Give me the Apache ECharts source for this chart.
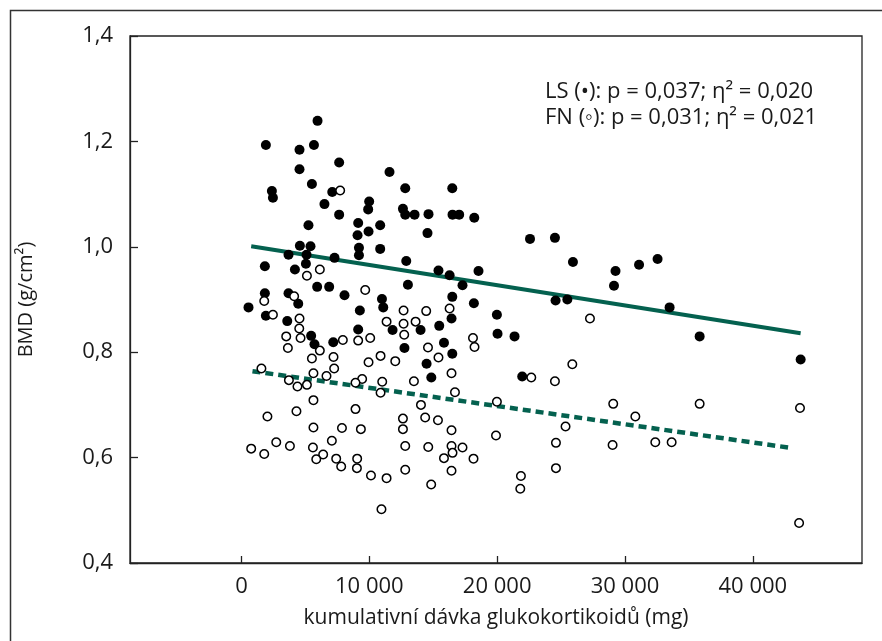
<!DOCTYPE html>
<html lang="cs">
<head>
    <meta charset="UTF-8">
    <title>BMD vs kumulativní dávka</title>
    <style>
        html, body { margin: 0; padding: 0; background: #fff; }
        #main { width: 882px; height: 641px; }
    </style>
</head>
<body>
<div id="main"></div>
<script src="https://cdn.jsdelivr.net/npm/echarts/dist/echarts.min.js"></script>
<script>
    // LS (plné body): [dávka mg, BMD]
    var lsData = [
        [5950,1.239],[1910,1.193],[4540,1.184],[5670,1.193],[7640,1.160],[4540,1.147],[11580,1.142],[5510,1.119],
        [2380,1.106],[2460,1.093],[7100,1.104],[12810,1.111],[6490,1.081],[9990,1.086],[9910,1.071],[12630,1.072],
        [12810,1.061],[13540,1.061],[14630,1.062],[7640,1.061],[5240,1.041],[9130,1.045],[10850,1.041],[9080,1.022],
        [9940,1.029],[14550,1.026],[4570,1.002],[5400,1.001],[3680,0.985],[5090,0.985],[9190,0.998],[9190,0.984],
        [10850,0.996],[7280,0.979],[5040,0.968],[12890,0.973],[1830,0.963],[4180,0.957],[5920,0.924],[6860,0.924],
        [13020,0.928],[1830,0.912],[3680,0.912],[8060,0.908],[4440,0.892],[550,0.885],[10990,0.901],[11090,0.885],
        [1910,0.869],[3580,0.859],[9260,0.879],[9130,0.843],[11820,0.842],[14010,0.842],[5450,0.831],[5710,0.815],
        [7180,0.819],[12750,0.808],[14480,0.778],[14850,0.752],[16490,1.111],[16510,1.061],[17030,1.061],[18210,1.055],
        [22570,1.015],[24520,1.017],[25930,0.971],[15410,0.955],[16280,0.946],[18540,0.954],[17290,0.927],[29260,0.954],
        [29140,0.926],[16490,0.905],[18180,0.893],[24570,0.898],[25490,0.900],[16430,0.864],[19980,0.871],[15470,0.850],
        [15840,0.818],[20030,0.835],[21360,0.830],[16490,0.797],[21960,0.754],[31100,0.966],[32550,0.977],[33490,0.885],
        [35840,0.830],[43740,0.786]
    ];

    // FN (prázdné body)
    var fnData = [
        [7720,1.107],[6130,0.957],[5120,0.945],[9680,0.918],[1780,0.897],[4120,0.906],[2460,0.871],[4540,0.864],
        [4520,0.845],[3500,0.830],[4620,0.827],[3630,0.808],[12680,0.879],[14450,0.878],[11350,0.858],[12680,0.854],
        [13620,0.858],[12730,0.833],[7930,0.823],[9130,0.822],[10070,0.827],[14590,0.809],[6130,0.803],[5510,0.788],
        [7200,0.791],[10880,0.793],[9940,0.781],[12030,0.783],[1560,0.769],[7250,0.769],[5630,0.760],[6650,0.755],
        [9440,0.749],[3710,0.747],[4380,0.735],[5120,0.738],[8920,0.742],[11010,0.744],[10880,0.723],[13490,0.745],
        [14040,0.700],[5630,0.709],[4300,0.688],[8920,0.692],[2030,0.678],[12630,0.674],[14370,0.676],[5630,0.657],
        [7860,0.656],[9340,0.654],[12630,0.654],[7070,0.632],[2720,0.629],[760,0.617],[1780,0.607],[3790,0.622],
        [5590,0.619],[6390,0.606],[5850,0.597],[7410,0.598],[9050,0.598],[7800,0.583],[9030,0.580],[12810,0.622],
        [14610,0.620],[12810,0.577],[10130,0.566],[11350,0.561],[14840,0.549],[10950,0.502],[16280,0.883],[27260,0.864],
        [18110,0.827],[18230,0.810],[15410,0.790],[25880,0.777],[16430,0.760],[22670,0.752],[24520,0.745],[16700,0.724],
        [19980,0.706],[29080,0.702],[30810,0.678],[15370,0.671],[16430,0.652],[25350,0.659],[19910,0.642],[16430,0.622],
        [17290,0.619],[16510,0.609],[15840,0.599],[18150,0.598],[24600,0.628],[29030,0.624],[16430,0.575],[24600,0.580],
        [21860,0.565],[21810,0.541],[35840,0.702],[43690,0.694],[32370,0.629],[33650,0.629],[43620,0.476]
    ];

    // regresní přímky (koncové body)
    var lsFit = [[760,1.001],[43740,0.836]];
    var fnFit = [[860,0.764],[43100,0.618]];

    var xTicks = [0, 10000, 20000, 30000, 40000];
    var xMin = -8720, xMax = 48540;
    var yMin = 0.4, yMax = 1.4, yStep = 0.2;

    var statLines = ['LS (•): p = 0,037; η² = 0,020', 'FN (◦): p = 0,031; η² = 0,021'];

    var FONT = '"Open Sans", "Noto Sans", sans-serif';
    var TXT = '#1a1a1a';
    var GREEN = '#04614f';

    function fmtThousands(v) {
        return String(v).replace(/\B(?=(\d{3})+(?!\d))/g, ' ');
    }

    var chart = echarts.init(document.getElementById('main'));
    chart.setOption({
        animation: false,
        backgroundColor: '#fff',
        grid: {
            left: 130, right: 20, top: 36, bottom: 78,
            outerBoundsMode: 'none',
            show: true, borderColor: '#222', borderWidth: 1.3
        },
        xAxis: {
            type: 'value', min: xMin, max: xMax,
            name: 'kumulativní dávka glukokortikoidů (mg)',
            nameLocation: 'middle', nameGap: 45,
            nameTextStyle: { fontFamily: FONT, fontSize: 21, color: TXT },
            axisLine: { show: true, onZero: false, lineStyle: { color: '#222', width: 1.3 } },
            axisTick: { show: true, inside: true, length: 7, customValues: xTicks, lineStyle: { color: '#222', width: 1.3 } },
            axisLabel: { customValues: xTicks, margin: 13, fontFamily: FONT, fontSize: 22, color: TXT, formatter: fmtThousands },
            splitLine: { show: false }
        },
        yAxis: {
            type: 'value', min: yMin, max: yMax, interval: yStep,
            name: 'BMD (g/cm²)',
            nameLocation: 'middle', nameGap: 94,
            nameTextStyle: { fontFamily: FONT, fontSize: 20, color: TXT },
            axisLine: { show: true, onZero: false, lineStyle: { color: '#222', width: 1.3 } },
            axisTick: { show: true, inside: true, length: 8, lineStyle: { color: '#222', width: 1.3 } },
            axisLabel: {
                margin: 17, fontFamily: FONT, fontSize: 22, color: TXT,
                formatter: function (v) { return v.toFixed(1).replace('.', ','); }
            },
            splitLine: { show: false }
        },
        graphic: [
            { type: 'rect', left: 8, top: 8, shape: { width: 900, height: 700 },
              style: { fill: 'none', stroke: '#333', lineWidth: 1.5 }, silent: true },
            { type: 'text', left: 545, top: 79,
              style: { text: statLines.join('\n'), font: '22px ' + FONT, fill: TXT, lineHeight: 26 } }
        ],
        series: [
            {
                type: 'line', data: lsFit, symbol: 'none', z: 1,
                lineStyle: { color: GREEN, width: 4 }
            },
            {
                type: 'line', data: fnFit, symbol: 'none', z: 1,
                lineStyle: { color: GREEN, width: 4.5, type: [8, 5] }
            },
            {
                type: 'scatter', data: lsData, symbol: 'circle', symbolSize: 10, z: 3,
                itemStyle: { color: '#000', opacity: 1 }
            },
            {
                type: 'scatter', data: fnData, symbol: 'circle', symbolSize: 8.5, z: 4,
                itemStyle: { color: '#fff', borderColor: '#000', borderWidth: 1.5, opacity: 1 }
            }
        ]
    });
</script>
</body>
</html>
